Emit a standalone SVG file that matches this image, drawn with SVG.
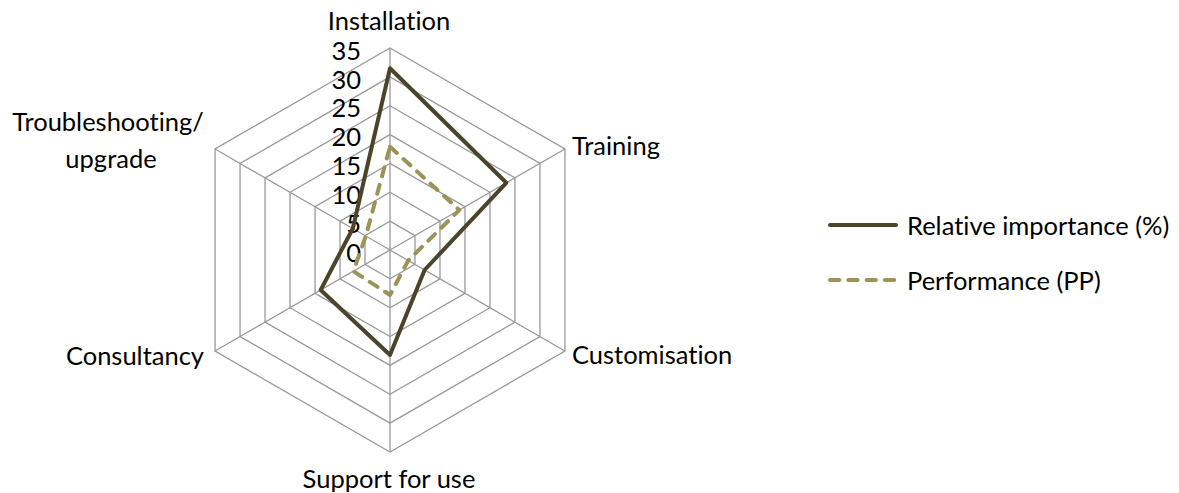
<svg xmlns="http://www.w3.org/2000/svg" width="1179" height="493" viewBox="0 0 1179 493">
<style>
.grid{fill:none;stroke:#9a9a9a;stroke-width:1.3}
.lbl{font-family:Lato,"Liberation Sans",sans-serif;font-size:25.5px;fill:#000;font-variant-ligatures:none}
.tick{font-family:Lato,"Liberation Sans",sans-serif;font-size:25.5px;fill:#000;text-anchor:end}
.s1{fill:none;stroke:#4a452a;stroke-width:4;stroke-linejoin:round;stroke-linecap:round}
.s2{fill:none;stroke:#9b9459;stroke-width:4;stroke-linejoin:round;stroke-linecap:round;stroke-dasharray:9.3 9}
</style>
<rect width="1179" height="493" fill="#fff"/>
<g id="grid">
<polygon class="grid" points="390,221.14 414.99,235.57 414.99,264.43 390,278.86 365.01,264.43 365.01,235.57"/>
<polygon class="grid" points="390,192.29 439.98,221.14 439.98,278.86 390,307.71 340.02,278.86 340.02,221.14"/>
<polygon class="grid" points="390,163.43 464.97,206.71 464.97,293.29 390,336.57 315.03,293.29 315.03,206.71"/>
<polygon class="grid" points="390,134.57 489.96,192.29 489.96,307.71 390,365.43 290.04,307.71 290.04,192.29"/>
<polygon class="grid" points="390,105.71 514.95,177.86 514.95,322.14 390,394.29 265.05,322.14 265.05,177.86"/>
<polygon class="grid" points="390,76.86 539.95,163.43 539.95,336.57 390,423.14 240.05,336.57 240.05,163.43"/>
<polygon class="grid" points="390,48 564.94,149 564.94,351 390,452 215.06,351 215.06,149"/>
<path class="grid" d="M390,250V48M390,250L564.94,149M390,250L564.94,351M390,250V452M390,250L215.06,351M390,250L215.06,149"/>
</g>
<g id="ticks">
<text class="tick" x="361" y="261.7">0</text>
<text class="tick" x="361" y="232.8">5</text>
<text class="tick" x="361" y="204">10</text>
<text class="tick" x="361" y="175.1">15</text>
<text class="tick" x="361" y="146.3">20</text>
<text class="tick" x="361" y="117.4">25</text>
<text class="tick" x="361" y="88.6">30</text>
<text class="tick" x="361" y="59.7">35</text>
</g>
<g id="axis-labels">
<text id="installation" class="lbl" x="389" y="30" text-anchor="middle">Installation</text>
<text id="training" class="lbl" x="572" y="155">Training</text>
<text id="customisation" class="lbl" x="572" y="364">Customisation</text>
<text id="support" class="lbl" x="389" y="488" text-anchor="middle">Support for use</text>
<text id="consultancy" class="lbl" x="204" y="365" text-anchor="end">Consultancy</text>
<text id="troubleshooting" class="lbl" text-anchor="middle"><tspan x="108" y="131">Troubleshooting/</tspan><tspan x="111" y="168">upgrade</tspan></text>
</g>
<g id="connectors">
<polygon id="relative-importance" class="s1" points="390,68.3 506.3,182.8 424.6,270 390,355 320.7,290 352.8,228.5"/>
<polygon id="performance" class="s2" points="390,146.7 459.3,210 408.2,260.5 390,295 353.4,271.2 365.8,236"/>
</g>
<g id="legend">
<line class="s1" x1="830" y1="225" x2="896" y2="225"/>
<text class="lbl" x="907" y="235">Relative importance (%)</text>
<line class="s2" x1="830" y1="280" x2="898" y2="280"/>
<text class="lbl" x="907" y="290">Performance (PP)</text>
</g>
</svg>
